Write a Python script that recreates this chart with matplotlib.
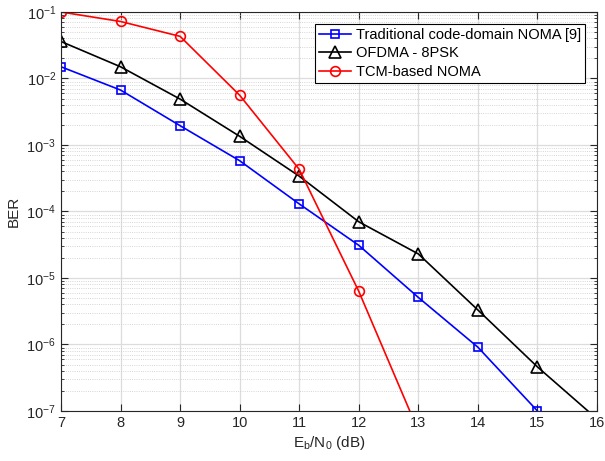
import matplotlib
matplotlib.use("Agg")
import matplotlib.pyplot as plt
from matplotlib.ticker import LogLocator, NullFormatter

plt.rcParams['font.family'] = ['Liberation Sans', 'DejaVu Sans']
plt.rcParams['mathtext.fontset'] = 'custom'
plt.rcParams['mathtext.rm'] = 'Liberation Sans'
plt.rcParams['mathtext.it'] = 'Liberation Sans'

snr = [7, 8, 9, 10, 11, 12, 13, 14, 15, 16]
ber_trad = [1.5e-2, 6.7e-3, 1.95e-3, 5.8e-4, 1.3e-4, 3.1e-5, 5.1e-6, 9.1e-7, 1.0e-7]
ber_ofdma = [3.6e-2, 1.5e-2, 4.9e-3, 1.35e-3, 3.4e-4, 7.0e-5, 2.3e-5, 3.3e-6, 4.6e-7, 7.6e-8]
ber_tcm = [1.0e-1, 7.2e-2, 4.3e-2, 5.6e-3, 4.3e-4, 6.3e-6, 5.0e-8]
labels = ['Traditional code-domain NOMA [9]', 'OFDMA - 8PSK', 'TCM-based NOMA']

fig = plt.figure(figsize=(6.05, 4.61), dpi=100)
ax = fig.add_axes([0.1008, 0.1085, 0.886, 0.8655])

ax.semilogy(snr[:len(ber_trad)], ber_trad, '-s', color='#0000ff', lw=1.2,
            ms=6, mfc='none', mew=1.2, label=labels[0])
ax.semilogy(snr[:len(ber_ofdma)], ber_ofdma, '-^', color='black', lw=1.2,
            ms=8, mfc='none', mew=1.2, label=labels[1])
ax.semilogy(snr[:len(ber_tcm)], ber_tcm, '-o', color='#ff0000', lw=1.2,
            ms=7, mfc='none', mew=1.2, label=labels[2])

ax.set_xlim(7, 16)
ax.set_ylim(1e-7, 1e-1)
ax.set_xticks(range(7, 17))
ax.yaxis.set_major_locator(LogLocator(base=10, numticks=20))
ax.yaxis.set_minor_locator(LogLocator(base=10, subs=range(2, 10), numticks=20))
ax.yaxis.set_minor_formatter(NullFormatter())

ax.grid(True, which='major', color='#dcdcdc', lw=0.9, ls='-')
ax.grid(True, which='minor', axis='y', color='#c8c8c8', lw=0.6, ls=':')
ax.set_axisbelow(True)

ax.tick_params(direction='in', which='both', top=True, right=True,
               labelsize=10.5, colors='#262626')
ax.tick_params(which='major', length=5)
ax.tick_params(which='minor', length=2.5)
for s in ax.spines.values():
    s.set_color('#262626')
    s.set_linewidth(0.8)

ax.set_xlabel('E$_\\mathrm{b}$/N$_\\mathrm{0}$ (dB)', fontsize=11, color='#262626',
              labelpad=3)
ax.set_ylabel('BER', fontsize=11, color='#262626')

leg = ax.legend(loc='upper right', fontsize=10.5, fancybox=False, framealpha=1,
                edgecolor='black', borderpad=0.3, labelspacing=0.3,
                handlelength=2.2, handletextpad=0.3, borderaxespad=0.8)
leg.get_frame().set_linewidth(0.8)

fig.savefig('out.png', dpi=100)
